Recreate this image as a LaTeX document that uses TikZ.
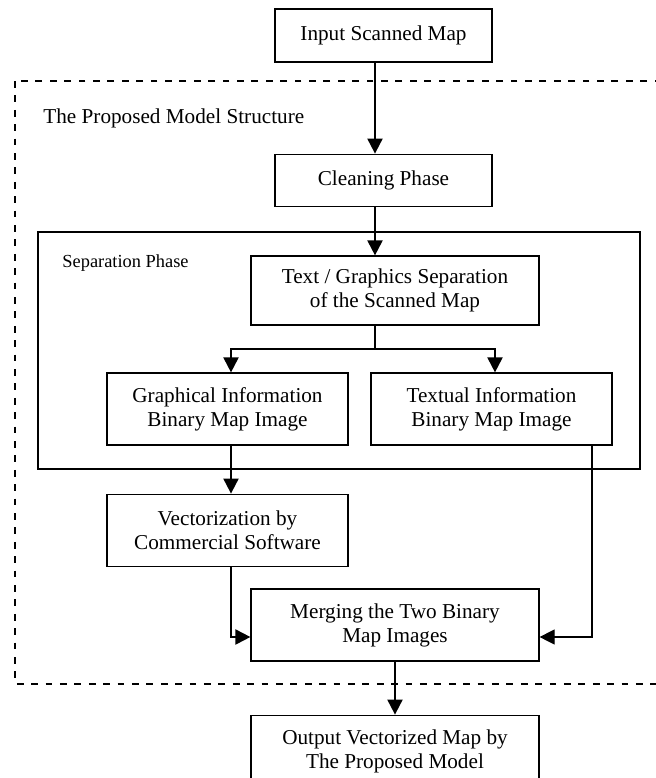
\documentclass[tikz,border=0pt]{standalone}
\usepackage{fontspec}
\setmainfont{Liberation Serif}
\usetikzlibrary{positioning,arrows.meta}
\tikzset{main node/.style={rectangle,draw,line width=0.6pt,minimum width=120.5pt,minimum height=36pt,inner sep=2pt,align=center,font=\fontsize{10.6}{12}\selectfont}}
\tikzset{label node/.style={anchor=west,inner sep=0pt}}
\tikzset{flow/.style={line width=1pt,-{Triangle[length=7.5pt,width=7.5pt]}}}

\begin{document}
\begin{tikzpicture}[x=0.5pt,y=-0.5pt]
    \useasboundingbox (0,0) rectangle (656,778);
    \clip (0,0) rectangle (656,778);

    \node[main node,minimum width=108.5pt,minimum height=26.5pt] (1) at (383.5,35.5) {Input Scanned Map};
    \node[main node,minimum width=108.5pt,minimum height=26pt] (2) [below=45.5pt of 1] {Cleaning Phase};
    \node[main node,minimum width=144pt,minimum height=34.5pt] (3) at (395,290.5) {Text / Graphics Separation\\of the Scanned Map};
    \node[main node] (4) at (227.5,409) {Graphical Information\\Binary Map Image};
    \node[main node] (5) at (491.5,409) {Textual Information\\Binary Map Image};
    \node[main node] (6) [below=24pt of 4] {Vectorization by\\Commercial Software};
    \node[main node,minimum width=144pt] (7) at (395,625) {Merging the Two Binary\\Map Images};
    \node[main node,minimum width=144pt] (8) [below=26.5pt of 7] {Output Vectorized Map by\\The Proposed Model};

    % frames
    \draw[dashed,line width=1pt,dash pattern=on 3.4pt off 3.8pt] (15,81) rectangle (700,684);
    \draw[line width=0.6pt] (38,232) rectangle (640,469);
    \node[label node,font=\fontsize{10.6}{12}\selectfont] (m) at (43,118) {The Proposed Model Structure};
    \node[label node,font=\fontsize{9.2}{11}\selectfont] (s) at (62,263) {Separation Phase};

    \coordinate (c) at (375,0);
    \coordinate (l) at (231,0);
    \coordinate (r) at (495,0);
    \coordinate (t) at (592,0);
    \coordinate (j) at (375,349);
    \coordinate (h) at (0,637);

    \draw[flow] (1.south -| c) -- (2.north -| c);
    \draw[flow] (2.south -| c) -- (3.north -| c);
    \draw[line width=1pt] (3.south -| c) -- (j);
    \draw[flow] (j) -| (4.north -| l);
    \draw[flow] (j) -| (5.north -| r);
    \draw[flow] (4.south -| l) -- (6.north -| l);
    \draw[flow] (6.south -| l) |- (7.west |- h);
    \draw[flow,line width=0.6pt] (5.south -| t) |- (7.east |- h);
    \draw[flow] (7) -- (8);
\end{tikzpicture}
\end{document}
